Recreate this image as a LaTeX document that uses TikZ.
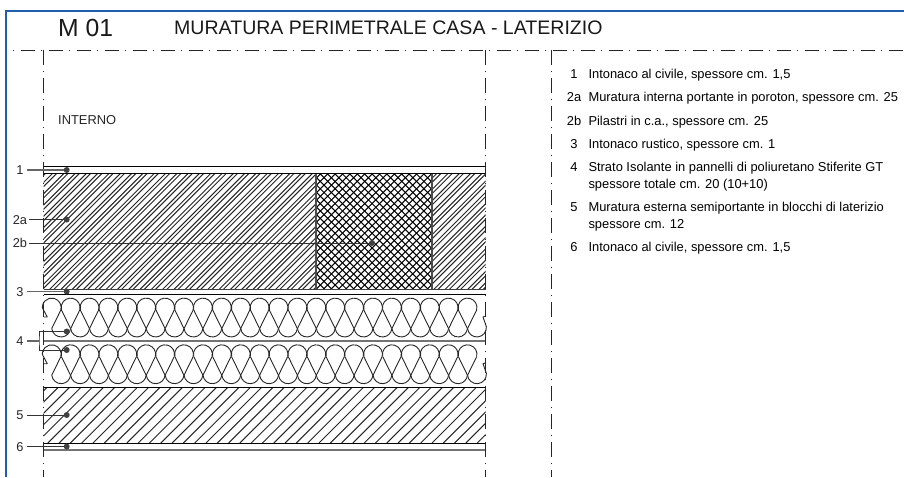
\documentclass[tikz,border=0pt]{standalone}
\usepackage{fontspec}
\setmainfont{Liberation Sans}
\newcommand{\fs}[1]{\fontsize{#1pt}{#1pt}\selectfont}
\definecolor{frameblue}{HTML}{1F5FAE}
\tikzset{
  frameline/.style={draw=frameblue,line width=2pt},
  axisline/.style={draw=black!85,line width=1pt,dash pattern=on 14.5pt off 6pt on 1pt off 6.5pt},
  layerline/.style={draw=black,line width=1pt},
  softline/.style={draw=black!55,line width=1.8pt},
  hatchline/.style={draw=black!85,line width=1pt},
  crossline/.style={draw=black,line width=1.05pt},
  lobe/.style={draw=black!85,line width=.9pt,line join=round},
  leader/.style={draw=black!80,line width=.9pt},
  softleader/.style={draw=black!60,line width=1.2pt},
  dotnode/.style={circle,fill=black!75,inner sep=0pt,minimum size=6pt},
  reflabel/.style={anchor=base,inner sep=0pt,font=\fs{12.8},text=black!85},
  legnum/.style={anchor=base,inner sep=0pt,font=\fs{12.9},text=black},
  legtext/.style={anchor=base west,inner sep=0pt,font=\fs{12.9},text=black},
}
\begin{document}
\begin{tikzpicture}[x=1pt,y=1pt]
\useasboundingbox (0,0) rectangle (904,-477);
% frame
\draw[frameline] (6,-477) -- (6,-10.5) -- (904,-10.5);
% hatch of the inner wall
\begin{scope}
  \clip (43.5,-173) rectangle (316,-289.5) (432,-173) rectangle (485.5,-289.5);
  \foreach \s in {-120,-108.7,...,490}{
    \draw[hatchline] (\s,-289.5) -- ++(116.5,116.5);
    \draw[hatchline] (\s+4.2,-289.5) -- ++(116.5,116.5);
  }
\end{scope}
% pillar cross hatch
\begin{scope}
  \clip (316,-173) rectangle (432,-289.5);
  \foreach \s in {190,197.4,...,440}{
    \draw[crossline] (\s,-289.5) -- ++(116.5,116.5);
  }
  \foreach \s in {310,317.4,...,560}{
    \draw[crossline] (\s,-289.5) -- ++(-116.5,116.5);
  }
\end{scope}
\draw[draw=black!70,line width=1.2pt] (316,-173) -- (316,-289.5) (432,-173) -- (432,-289.5);
% hatch of the outer wall
\begin{scope}
  \clip (43.5,-387) rectangle (485.5,-443);
  \foreach \s in {-20,-8.7,...,490}{
    \draw[hatchline] (\s,-443) -- ++(56,56);
  }
\end{scope}
% layer lines
\foreach \y in {166,173.2,294.4,387.2,443.2}{
  \draw[layerline] (43.5,-\y) -- (485.5,-\y);
}
\draw[draw=black!75,line width=1.2pt] (43.5,-289.5) -- (485.5,-289.5);
\draw[softline] (43.5,-341) -- (485.5,-341);
\draw[softline] (43.5,-449.8) -- (485.5,-449.8);
% insulation: heads and long zigzag
\foreach \o in {0,46.7}{
\begin{scope}[yshift=-\o pt]
  \foreach \i in {0,...,22}{
    \pgfmathsetmacro{\t}{51.7+18.9*\i}
    \pgfmathsetmacro{\b}{\t+9.45}
    \ifnum\i=0
      \draw[lobe] (\t+9.13,-310) arc[start angle=-15,end angle=180,radius=9.45] -- (47.3,-317) -- (43.5,-317);
    \else
      \draw[lobe] (\t+9.13,-310) arc[start angle=-15,end angle=195,radius=9.45];
      \draw[lobe] (\t-9.13,-310) -- (\t-0.05,-328.5);
    \fi
    \draw[lobe] (\t+9.13,-310) -- (\t+0.05,-328.5);
    \ifnum\i=22
      \draw[lobe] (\b-9.4,-328.5) arc[start angle=186,end angle=365,radius=9.45] -- (483,-317) -- (486,-316);
    \else
      \draw[lobe] (\b-9.4,-328.5) arc[start angle=186,end angle=354,radius=9.45];
    \fi
  }
\end{scope}
}
% axes
\draw[axisline,dash phase=20.5pt] (13,-50) -- (904,-50);
\draw[axisline] (43.5,-50) -- (43.5,-477);
\draw[axisline] (485.5,-50) -- (485.5,-477);
\draw[axisline] (551,-50) -- (551,-477);
% titles
\node[anchor=base west,inner sep=0pt,font=\fs{24.7},text=black!90] (code) at (58,-36) {M 01};
\node[anchor=base west,inner sep=0pt,font=\fs{19.55},text=black!90] (title) at (174,-34) {MURATURA PERIMETRALE CASA - LATERIZIO};
\node[anchor=base west,inner sep=0pt,font=\fs{12.9},text=black!85] (interno) at (58,-124.5) {INTERNO};
% dots
\node[dotnode] (d1) at (66.7,-170) {};
\node[dotnode] (d2a) at (66.7,-219.5) {};
\node[dotnode] (d2b) at (372,-243) {};
\node[dotnode] (d3) at (66.7,-291.5) {};
\node[dotnode] (d4a) at (66.7,-331.5) {};
\node[dotnode] (d4b) at (66.7,-350) {};
\node[dotnode] (d5) at (66.7,-415) {};
\node[dotnode] (d6) at (66.7,-446.5) {};
% labels
\node[reflabel] (l1) at (20,-174) {1};
\node[reflabel] (l2a) at (20,-224) {2a};
\node[reflabel] (l2b) at (20,-247.7) {2b};
\node[reflabel] (l3) at (20,-296) {3};
\node[reflabel] (l4) at (20,-345.3) {4};
\node[reflabel] (l5) at (20,-419.3) {5};
\node[reflabel] (l6) at (20,-451) {6};
% leaders
\draw[softleader] ([xshift=3pt]l1.east |- d1) -- (d1);
\draw[leader] ([xshift=2pt]l2a.east |- d2a) -- (d2a);
\draw[leader] ([xshift=2pt]l2b.east |- d2b) -- (d2b);
\draw[softleader] ([xshift=3pt]l3.east |- d3) -- (d3);
\coordinate (b4) at (39,-341);
\draw[softleader] ([xshift=3pt]l4.east |- b4) -- (b4);
\draw[leader] (d4a) -| (b4) |- (d4b);
\draw[leader] ([xshift=3pt]l5.east |- d5) -- (d5);
\draw[leader] ([xshift=3pt]l6.east |- d6) -- (d6);
% legend
\node[legnum] (n1) at (574,-78.3) {1};
\node[legtext] (t1) at (588.3,-78.3) {Intonaco al civile, spessore cm. 1,5};
\node[legnum] (n2a) at (574,-101.7) {2a};
\node[legtext] (t2a) at (588.3,-101.7) {Muratura interna portante in poroton, spessore cm. 25};
\node[legnum] (n2b) at (574,-125) {2b};
\node[legtext] (t2b) at (588.3,-125) {Pilastri in c.a., spessore cm. 25};
\node[legnum] (n3) at (574,-148.3) {3};
\node[legtext] (t3) at (588.3,-148.3) {Intonaco rustico, spessore cm. 1};
\node[legnum] (n4) at (574,-171.7) {4};
\node[legtext] (t4) at (588.3,-171.7) {Strato Isolante in pannelli di poliuretano Stiferite GT};
\node[legtext] (t4b) at (588.3,-188.3) {spessore totale cm. 20 (10+10)};
\node[legnum] (n5) at (574,-211.7) {5};
\node[legtext] (t5) at (588.3,-211.7) {Muratura esterna semiportante in blocchi di laterizio};
\node[legtext] (t5b) at (588.3,-228) {spessore cm. 12};
\node[legnum] (n6) at (574,-251) {6};
\node[legtext] (t6) at (588.3,-251) {Intonaco al civile, spessore cm. 1,5};
\end{tikzpicture}
\end{document}
